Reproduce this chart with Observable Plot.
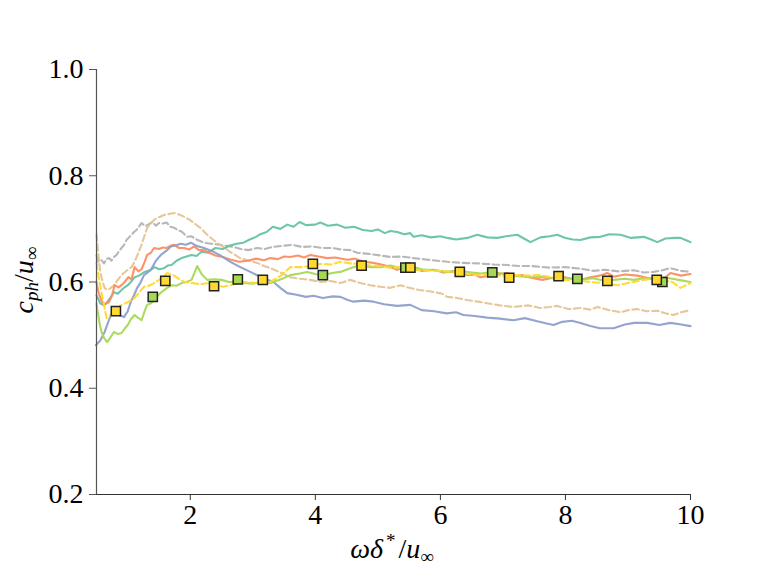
<!DOCTYPE html>
<html><head><meta charset="utf-8">
<script src="https://cdn.jsdelivr.net/npm/d3@7"></script>
<script src="https://cdn.jsdelivr.net/npm/@observablehq/plot@0.6"></script>
<style>body{margin:0;background:#fff}#chart{width:768px;height:576px}</style>
</head><body><div id="chart"></div>
<script>
// teal solid
const tealX=[0.50,0.56,0.62,0.67,0.72,0.78,0.84,0.90,0.95,1.00,1.05,1.11,1.18,1.27,1.35,1.43,1.50,1.58,1.64,1.70,1.78,1.86,1.94,2.02,2.10,2.18,2.28,2.40,2.52,2.62,2.74,2.85,2.95,3.05,3.12,3.22,3.32,3.44,3.55,3.65,3.75,3.85,4.00,4.08,4.20,4.35,4.48,4.62,4.76,4.90,5.00,5.11,5.20,5.31,5.42,5.52,5.57,5.70,5.85,6.00,6.11,6.25,6.43,6.59,6.75,6.91,7.05,7.23,7.35,7.44,7.60,7.75,7.87,8.00,8.12,8.24,8.40,8.56,8.70,8.88,9.05,9.25,9.35,9.47,9.60,9.75,9.84,9.92,10.0];
const tealY=[0.575,0.560,0.556,0.562,0.570,0.581,0.578,0.585,0.590,0.594,0.600,0.609,0.612,0.619,0.622,0.628,0.624,0.626,0.631,0.632,0.640,0.645,0.648,0.651,0.649,0.657,0.655,0.664,0.662,0.668,0.672,0.674,0.680,0.685,0.690,0.694,0.704,0.700,0.708,0.704,0.713,0.707,0.708,0.712,0.706,0.708,0.702,0.704,0.698,0.696,0.699,0.692,0.696,0.694,0.690,0.692,0.685,0.688,0.684,0.686,0.683,0.680,0.683,0.689,0.684,0.683,0.686,0.689,0.681,0.675,0.684,0.686,0.689,0.683,0.680,0.679,0.684,0.685,0.690,0.689,0.683,0.685,0.681,0.675,0.682,0.683,0.683,0.679,0.675];
// orange solid
const orangeX=[0.50,0.53,0.58,0.62,0.66,0.70,0.75,0.79,0.85,0.90,0.95,1.01,1.06,1.11,1.17,1.22,1.27,1.31,1.37,1.42,1.50,1.56,1.62,1.68,1.74,1.82,1.90,1.98,2.06,2.14,2.22,2.30,2.40,2.52,2.65,2.78,2.92,3.05,3.18,3.28,3.40,3.50,3.60,3.72,3.82,3.92,4.05,4.19,4.32,4.51,4.64,4.77,4.93,5.09,5.20,5.31,5.42,5.52,5.70,5.90,6.05,6.20,6.43,6.55,6.64,6.80,6.92,7.07,7.20,7.31,7.45,7.63,7.80,7.95,8.10,8.24,8.40,8.55,8.67,8.77,8.95,9.15,9.30,9.47,9.60,9.68,9.85,10.0];
const orangeY=[0.600,0.581,0.565,0.557,0.560,0.562,0.575,0.594,0.590,0.594,0.600,0.609,0.605,0.628,0.620,0.624,0.638,0.651,0.655,0.664,0.662,0.665,0.664,0.668,0.670,0.664,0.664,0.661,0.667,0.660,0.660,0.655,0.650,0.647,0.642,0.638,0.640,0.644,0.641,0.645,0.643,0.648,0.647,0.650,0.646,0.651,0.648,0.645,0.646,0.642,0.644,0.638,0.636,0.632,0.628,0.623,0.628,0.626,0.621,0.623,0.618,0.620,0.613,0.614,0.609,0.612,0.615,0.617,0.611,0.613,0.608,0.604,0.608,0.610,0.606,0.604,0.609,0.612,0.617,0.610,0.614,0.612,0.608,0.604,0.609,0.617,0.612,0.615];
// blue solid
const blueX=[0.49,0.56,0.63,0.68,0.73,0.80,0.86,0.94,1.00,1.05,1.10,1.15,1.20,1.26,1.32,1.37,1.45,1.53,1.61,1.69,1.77,1.85,1.93,2.01,2.10,2.22,2.35,2.48,2.64,2.80,2.96,3.15,3.33,3.45,3.55,3.70,3.85,3.97,4.12,4.28,4.40,4.52,4.61,4.78,4.93,5.10,5.31,5.52,5.70,5.90,6.10,6.25,6.37,6.55,6.75,6.95,7.17,7.35,7.55,7.70,7.81,7.95,8.10,8.24,8.40,8.55,8.77,8.95,9.10,9.31,9.50,9.68,9.85,10.0];
const blueY=[0.481,0.490,0.506,0.522,0.538,0.540,0.538,0.534,0.545,0.563,0.575,0.589,0.598,0.613,0.618,0.623,0.640,0.651,0.658,0.667,0.669,0.672,0.670,0.674,0.668,0.664,0.658,0.650,0.638,0.628,0.619,0.608,0.600,0.588,0.579,0.576,0.572,0.574,0.570,0.573,0.572,0.566,0.563,0.565,0.563,0.558,0.555,0.557,0.547,0.545,0.541,0.543,0.538,0.536,0.533,0.531,0.528,0.532,0.526,0.522,0.519,0.525,0.527,0.523,0.517,0.513,0.513,0.520,0.523,0.523,0.519,0.523,0.520,0.517];
// green solid
const greenX=[0.50,0.52,0.55,0.58,0.62,0.67,0.72,0.78,0.84,0.90,0.95,1.00,1.05,1.11,1.16,1.22,1.27,1.31,1.37,1.42,1.48,1.54,1.62,1.70,1.78,1.86,1.94,2.02,2.07,2.11,2.18,2.27,2.38,2.50,2.62,2.75,2.85,3.00,3.15,3.28,3.45,3.60,3.75,3.87,4.00,4.13,4.27,4.40,4.56,4.72,4.88,5.04,5.20,5.35,5.52,5.70,5.90,6.11,6.30,6.50,6.65,6.85,7.05,7.25,7.44,7.65,7.85,8.03,8.25,8.45,8.60,8.77,8.95,9.10,9.25,9.45,9.60,9.71,9.85,10.0];
const greenY=[0.560,0.543,0.522,0.506,0.495,0.487,0.495,0.506,0.502,0.504,0.512,0.519,0.530,0.538,0.533,0.528,0.545,0.557,0.560,0.566,0.574,0.581,0.588,0.594,0.593,0.598,0.600,0.604,0.618,0.630,0.615,0.604,0.605,0.604,0.600,0.601,0.598,0.597,0.600,0.598,0.605,0.613,0.616,0.619,0.615,0.613,0.617,0.619,0.626,0.632,0.628,0.628,0.631,0.627,0.630,0.624,0.622,0.619,0.621,0.618,0.616,0.619,0.614,0.611,0.609,0.610,0.606,0.607,0.605,0.607,0.603,0.604,0.606,0.604,0.607,0.606,0.608,0.606,0.603,0.600];
// yellow dashed
const yellowX=[0.50,0.53,0.58,0.62,0.66,0.70,0.74,0.82,0.90,1.00,1.11,1.18,1.26,1.34,1.42,1.54,1.63,1.74,1.82,1.90,2.02,2.15,2.30,2.42,2.53,2.70,2.85,3.05,3.28,3.45,3.60,3.81,3.95,4.08,4.25,4.40,4.56,4.72,4.88,5.04,5.18,5.31,5.45,5.57,5.80,6.11,6.40,6.60,6.80,7.00,7.17,7.40,7.60,7.80,7.97,8.20,8.40,8.60,8.83,9.00,9.09,9.25,9.41,9.55,9.71,9.84,10.0];
const yellowY=[0.636,0.613,0.580,0.557,0.532,0.535,0.540,0.550,0.557,0.562,0.570,0.580,0.591,0.593,0.598,0.607,0.617,0.612,0.606,0.600,0.598,0.596,0.598,0.594,0.591,0.596,0.600,0.598,0.600,0.612,0.628,0.628,0.632,0.634,0.633,0.638,0.635,0.634,0.631,0.630,0.627,0.628,0.624,0.623,0.622,0.620,0.616,0.613,0.614,0.611,0.613,0.612,0.613,0.608,0.604,0.603,0.600,0.598,0.594,0.598,0.600,0.604,0.607,0.603,0.600,0.589,0.598];
// tan dashed
const tanX=[0.50,0.53,0.56,0.60,0.63,0.67,0.72,0.78,0.84,0.90,1.00,1.06,1.11,1.16,1.22,1.27,1.31,1.37,1.42,1.50,1.58,1.66,1.74,1.82,1.90,1.98,2.06,2.16,2.26,2.37,2.45,2.53,2.66,2.80,2.94,3.07,3.18,3.28,3.44,3.60,3.76,3.92,4.08,4.24,4.40,4.56,4.72,4.88,5.04,5.20,5.36,5.50,5.66,5.85,6.03,6.11,6.27,6.43,6.60,6.75,6.95,7.17,7.40,7.60,7.75,7.87,8.05,8.24,8.40,8.51,8.70,8.88,9.00,9.15,9.30,9.47,9.60,9.73,9.85,10.0];
const tanY=[0.690,0.651,0.619,0.600,0.589,0.585,0.588,0.594,0.604,0.613,0.623,0.628,0.638,0.652,0.670,0.688,0.702,0.710,0.717,0.722,0.726,0.728,0.730,0.727,0.723,0.718,0.711,0.702,0.690,0.679,0.672,0.666,0.655,0.645,0.640,0.636,0.630,0.626,0.618,0.609,0.606,0.604,0.600,0.602,0.598,0.604,0.598,0.594,0.591,0.589,0.594,0.589,0.585,0.582,0.578,0.572,0.570,0.566,0.563,0.560,0.556,0.553,0.556,0.551,0.553,0.555,0.549,0.551,0.548,0.553,0.547,0.543,0.547,0.549,0.545,0.546,0.541,0.538,0.543,0.547];
// gray dashed
const grayX=[0.50,0.53,0.58,0.62,0.66,0.70,0.74,0.78,0.82,0.86,0.90,0.94,0.98,1.02,1.06,1.10,1.14,1.18,1.22,1.28,1.34,1.39,1.45,1.50,1.56,1.62,1.68,1.74,1.80,1.86,1.95,2.02,2.10,2.22,2.34,2.46,2.58,2.69,2.81,2.93,3.07,3.19,3.31,3.47,3.63,3.79,3.95,4.11,4.27,4.42,4.56,4.67,4.85,5.04,5.20,5.38,5.57,5.80,6.11,6.35,6.61,6.85,7.07,7.25,7.47,7.75,8.00,8.24,8.45,8.64,8.85,9.09,9.25,9.41,9.55,9.68,9.85,10.0];
const grayY=[0.650,0.638,0.641,0.635,0.643,0.645,0.640,0.647,0.651,0.658,0.664,0.670,0.679,0.684,0.689,0.694,0.698,0.704,0.711,0.705,0.709,0.713,0.706,0.711,0.710,0.712,0.704,0.702,0.698,0.695,0.685,0.686,0.680,0.674,0.672,0.670,0.668,0.666,0.662,0.660,0.664,0.662,0.666,0.668,0.670,0.666,0.667,0.664,0.664,0.661,0.660,0.655,0.653,0.650,0.647,0.648,0.645,0.642,0.638,0.636,0.635,0.633,0.632,0.630,0.630,0.627,0.628,0.625,0.621,0.623,0.620,0.622,0.618,0.619,0.622,0.626,0.621,0.619];
// square markers
const ySqX=[0.81,1.60,2.38,3.16,3.96,4.74,5.52,6.31,7.10,7.89,8.67,9.46];
const ySqY=[0.545,0.602,0.592,0.604,0.634,0.631,0.627,0.619,0.608,0.611,0.602,0.604];
const gSqX=[1.40,2.76,4.12,5.44,6.83,8.19,9.55];
const gSqY=[0.572,0.605,0.613,0.627,0.618,0.606,0.600];
const xTicks=[2,4,6,8,10];
const yTicks=[0.2,0.4,0.6,0.8,1.0];

const pts=(xa,ya)=>xa.map((x,i)=>({x,y:ya[i]}));
const DASH="6.5,3.5";
const series=[
  {d:pts(grayX,grayY),c:"#b3b3b3",dash:DASH},
  {d:pts(tanX,tanY),c:"#e5c494",dash:DASH},
  {d:pts(tealX,tealY),c:"#66c2a5",dash:null},
  {d:pts(orangeX,orangeY),c:"#fc8d62",dash:null},
  {d:pts(blueX,blueY),c:"#8da0cb",dash:null},
  {d:pts(greenX,greenY),c:"#a6d854",dash:null},
  {d:pts(yellowX,yellowY),c:"#ffd92f",dash:DASH}
];
const F='"Liberation Serif", "Times New Roman", serif';
const marks=[];
for(const s of series){
  marks.push(Plot.line(s.d,{x:"x",y:"y",stroke:s.c,strokeWidth:2.1,strokeOpacity:0.95,strokeDasharray:s.dash||undefined}));
}
marks.push(Plot.dot(pts(gSqX,gSqY),{x:"x",y:"y",symbol:"square",r:5.2,fill:"#a6d854",stroke:"#222",strokeWidth:1.5}));
marks.push(Plot.dot(pts(ySqX,ySqY),{x:"x",y:"y",symbol:"square",r:5.2,fill:"#ffd92f",stroke:"#222",strokeWidth:1.5}));
marks.push(Plot.ruleX([0.5],{stroke:"#555",strokeWidth:1.2}));
marks.push(Plot.ruleY([0.2],{stroke:"#333",strokeWidth:1.2}));
marks.push(Plot.axisX({ticks:xTicks,tickSize:6,tickPadding:4,label:null,stroke:"#333"}));
marks.push(Plot.axisY({ticks:yTicks,tickFormat:d3.format(".1f"),tickSize:7,tickPadding:6,label:null,stroke:"#555"}));

const svg=Plot.plot({
  width:768,height:576,
  marginLeft:96,marginRight:78,marginTop:69,marginBottom:82,
  x:{domain:[0.5,10]},y:{domain:[0.2,1.0]},
  style:{background:"white",color:"black"},
  marks
});
const s=d3.select(svg);
s.selectAll("text").style("font-family",F).style("font-size","28px").style("fill","black");
const xl=s.append("text").attr("x",392).attr("y",558).attr("text-anchor","middle")
  .style("font-family",F).style("font-size","28px").attr("fill","black");
xl.append("tspan").style("font-style","italic").text("ωδ");
xl.append("tspan").style("font-size","19px").attr("dx",3).attr("dy",-11).text("*");
xl.append("tspan").attr("dx",3).attr("dy",11).text("/");
xl.append("tspan").style("font-style","italic").text("u");
xl.append("tspan").style("font-size","19px").attr("dy",5).text("∞");
const yl=s.append("text").attr("transform","translate(33,280) rotate(-90)").attr("text-anchor","middle")
  .style("font-family",F).style("font-size","28px").attr("fill","black");
yl.append("tspan").style("font-style","italic").text("c");
yl.append("tspan").style("font-style","italic").style("font-size","19px").attr("dy",5).text("ph");
yl.append("tspan").attr("dy",-5).text("/");
yl.append("tspan").style("font-style","italic").text("u");
yl.append("tspan").style("font-size","19px").attr("dy",5).text("∞");
document.getElementById("chart").appendChild(svg);
</script></body></html>
